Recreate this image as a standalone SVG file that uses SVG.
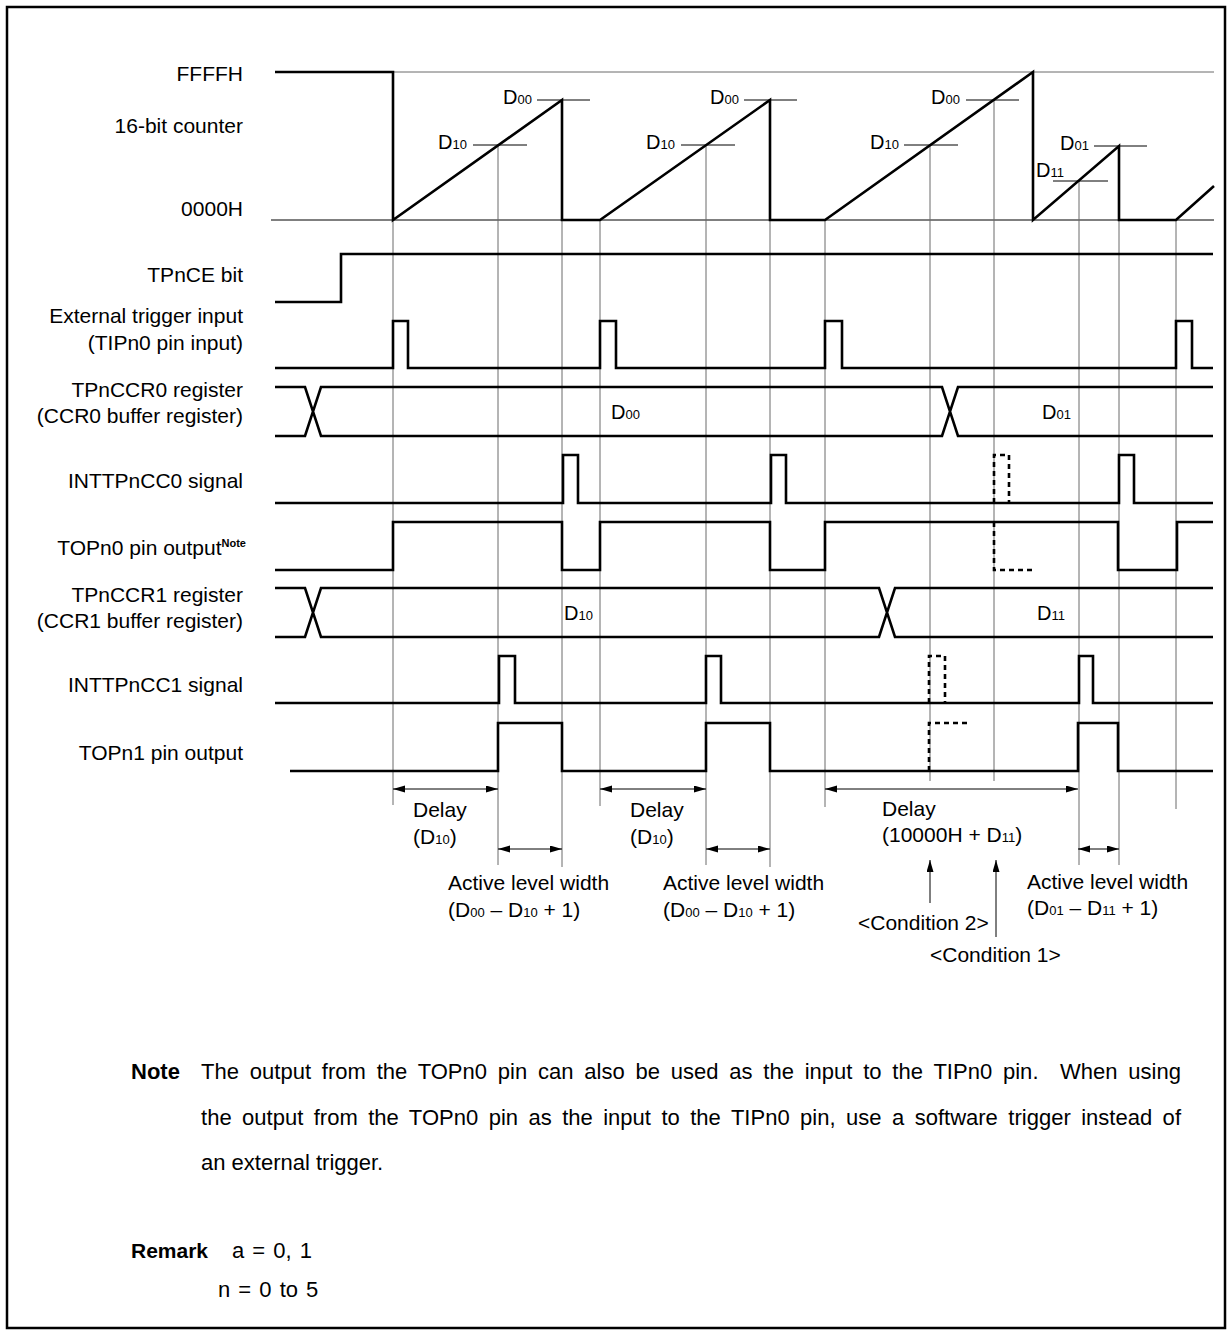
<svg xmlns="http://www.w3.org/2000/svg" width="1232" height="1335" viewBox="0 0 1232 1335">
<style>
.sig{fill:none;stroke:#000;stroke-width:2.6;stroke-linejoin:miter;stroke-linecap:butt}
.dash{fill:none;stroke:#000;stroke-width:2.6;stroke-dasharray:5 4}
.guide{fill:none;stroke:#6a6a6a;stroke-width:1}
.thin{fill:none;stroke:#000;stroke-width:1}
.arr{fill:none;stroke:#000;stroke-width:1;marker-start:url(#ah);marker-end:url(#ah)}
.up{fill:none;stroke:#000;stroke-width:1;marker-end:url(#ah)}
text{font-family:"Liberation Sans",Arial,Helvetica,sans-serif;fill:#000}
.lbl{font-size:21px}
.lb{font-size:21px;text-anchor:end}
.dl{font-size:20px}
.sub{font-size:13px}
.note{font-size:22px}
.rm{font-size:21px}
.b{font-weight:bold}
</style>
<defs>
<marker id="ah" markerUnits="userSpaceOnUse" markerWidth="13" markerHeight="8" refX="12" refY="3.5" orient="auto-start-reverse" viewBox="0 0 13 8">
<path d="M0,0 L12,3.5 L0,7 z" fill="#000"/>
</marker>
</defs>
<rect x="7" y="7" width="1218" height="1321" fill="#fff" stroke="#000" stroke-width="2.5"/>

<g id="connectors">
<path class="guide" d="M393,72H1214"/>
<path class="thin" d="M271,220H1214"/>
<path class="guide" d="M393,220V805M498,145V865M562,220V867M600,220V806M706,145V865M770,220V867M825,220V807M930,145V781M994,100V781M1079,181V865M1119,220V865M1176,220V809"/>
<path class="thin" d="M473,145H527M537,100H590M681,145H735M744,100H797M904,145H958M966,100H1019M1094,146H1147M1053,181H1108"/>
<path class="arr" d="M393,789H498"/>
<path class="arr" d="M498,849H562"/>
<path class="arr" d="M600,789H706"/>
<path class="arr" d="M706,849H770"/>
<path class="arr" d="M825,789H1078"/>
<path class="arr" d="M1078,849H1119"/>
<path class="up" d="M930,903V860"/>
<path class="up" d="M996,937V860"/>
</g>

<g id="counter">
<text class="lb" x="243" y="81">FFFFH</text>
<text class="lb" x="243" y="133">16-bit counter</text>
<text class="lb" x="243" y="216">0000H</text>
<path class="sig" d="M275,72H393V220L562,100V220H600L770,100V220H825L1033,72V220L1119,146V220H1176L1214,186"/>
<text class="dl" x="532" y="104" text-anchor="end">D<tspan class="sub">00</tspan></text>
<text class="dl" x="467" y="149" text-anchor="end">D<tspan class="sub">10</tspan></text>
<text class="dl" x="739" y="104" text-anchor="end">D<tspan class="sub">00</tspan></text>
<text class="dl" x="675" y="149" text-anchor="end">D<tspan class="sub">10</tspan></text>
<text class="dl" x="960" y="104" text-anchor="end">D<tspan class="sub">00</tspan></text>
<text class="dl" x="899" y="149" text-anchor="end">D<tspan class="sub">10</tspan></text>
<text class="dl" x="1089" y="150" text-anchor="end">D<tspan class="sub">01</tspan></text>
<text class="dl" x="1036" y="177">D<tspan class="sub">11</tspan></text>
</g>

<g id="tpnce">
<text class="lb" x="243" y="282">TPnCE bit</text>
<path class="sig" d="M275,302H341V254H1213"/>
</g>

<g id="trigger">
<text class="lb" x="243" y="323">External trigger input</text>
<text class="lb" x="243" y="350">(TIPn0 pin input)</text>
<path class="sig" d="M275,368H393V321H408V368H600V321H616V368H825V321H842V368H1176V321H1192V368H1213"/>
</g>

<g id="ccr0">
<text class="lb" x="243" y="397">TPnCCR0 register</text>
<text class="lb" x="243" y="423">(CCR0 buffer register)</text>
<path class="sig" d="M275,387H305L321,436H942L958,387H1213M275,436H305L321,387H942L958,436H1213"/>
<text class="dl" x="611" y="419">D<tspan class="sub">00</tspan></text>
<text class="dl" x="1042" y="419">D<tspan class="sub">01</tspan></text>
</g>

<g id="intcc0">
<text class="lb" x="243" y="488">INTTPnCC0 signal</text>
<path class="sig" d="M275,503H563V455H578V503H771V455H786V503H1119V455H1134V503H1213"/>
<path class="dash" d="M994,503V455H1009V503"/>
</g>

<g id="topn0">
<text class="lb" x="246" y="555">TOPn0 pin output<tspan class="b" font-size="11" dy="-8">Note</tspan></text>
<path class="sig" d="M275,570H393V522H562V570H600V522H770V570H825V522H1118V570H1177V522H1213"/>
<path class="dash" d="M994,522V570H1035"/>
</g>

<g id="ccr1">
<text class="lb" x="243" y="602">TPnCCR1 register</text>
<text class="lb" x="243" y="628">(CCR1 buffer register)</text>
<path class="sig" d="M275,588H305L321,637H879L895,588H1213M275,637H305L321,588H879L895,637H1213"/>
<text class="dl" x="564" y="620">D<tspan class="sub">10</tspan></text>
<text class="dl" x="1037" y="620">D<tspan class="sub">11</tspan></text>
</g>

<g id="intcc1">
<text class="lb" x="243" y="692">INTTPnCC1 signal</text>
<path class="sig" d="M275,703H499V656H515V703H706V656H721V703H1079V656H1093V703H1213"/>
<path class="dash" d="M929,703V656H945V703"/>
</g>

<g id="topn1">
<text class="lb" x="243" y="760">TOPn1 pin output</text>
<path class="sig" d="M290,771H498V723H562V771H706V723H770V771H1078V723H1118V771H1213"/>
<path class="dash" d="M929,771V723H970"/>
</g>

<g id="annotations">
<text class="lbl" x="413" y="817">Delay</text>
<text class="lbl" x="413" y="844">(D<tspan class="sub">10</tspan>)</text>
<text class="lbl" x="630" y="817">Delay</text>
<text class="lbl" x="630" y="844">(D<tspan class="sub">10</tspan>)</text>
<text class="lbl" x="448" y="890">Active level width</text>
<text class="lbl" x="448" y="917">(D<tspan class="sub">00</tspan> – D<tspan class="sub">10</tspan> + 1)</text>
<text class="lbl" x="663" y="890">Active level width</text>
<text class="lbl" x="663" y="917">(D<tspan class="sub">00</tspan> – D<tspan class="sub">10</tspan> + 1)</text>
<text class="lbl" x="882" y="816">Delay</text>
<text class="lbl" x="882" y="842">(10000H + D<tspan class="sub">11</tspan>)</text>
<text class="lbl" x="1027" y="889">Active level width</text>
<text class="lbl" x="1027" y="915">(D<tspan class="sub">01</tspan> – D<tspan class="sub">11</tspan> + 1)</text>
<text class="lbl" x="858" y="930">&lt;Condition 2&gt;</text>
<text class="lbl" x="930" y="962">&lt;Condition 1&gt;</text>
</g>

<g id="note">
<text class="note b" x="131" y="1079">Note</text>
<text class="note" x="201" y="1079" xml:space="preserve" word-spacing="4.6" textLength="980" lengthAdjust="spacing">The output from the TOPn0 pin can also be used as the input to the TIPn0 pin.  When using</text>
<text class="note" x="201" y="1125" word-spacing="4.3" textLength="980" lengthAdjust="spacing">the output from the TOPn0 pin as the input to the TIPn0 pin, use a software trigger instead of</text>
<text class="note" x="201" y="1170">an external trigger.</text>
</g>

<g id="remark">
<text class="rm b" x="131" y="1258">Remark</text>
<text class="note" x="232" y="1258" word-spacing="2">a = 0, 1</text>
<text class="note" x="218" y="1297" word-spacing="2">n = 0 to 5</text>
</g>
</svg>
